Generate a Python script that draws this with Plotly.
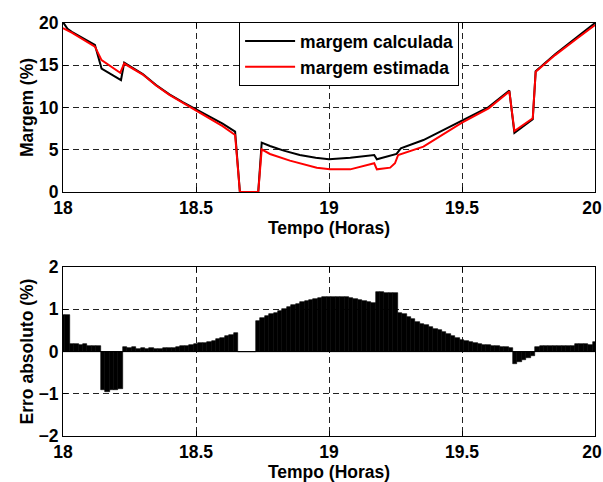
import plotly.graph_objects as go

# ---- data ----
tempo_calc = [18.0, 18.017, 18.033, 18.12, 18.145, 18.218, 18.23, 18.3, 18.35, 18.4,
              18.45, 18.5, 18.55, 18.6, 18.647, 18.665, 18.734, 18.747, 18.778, 18.83,
              18.89, 18.95, 19.0, 19.08, 19.17, 19.18, 19.254, 19.27, 19.355, 19.455,
              19.5, 19.6, 19.678, 19.697, 19.766, 19.777, 19.85, 19.93, 20.0]
margem_calculada = [20.1, 19.3, 18.95, 17.4, 14.6, 13.25, 15.3, 13.95, 12.65, 11.55,
                    10.65, 9.8, 8.95, 8.1, 7.15, 0.0, 0.0, 5.84, 5.44, 4.9,
                    4.38, 4.05, 3.87, 4.06, 4.38, 3.87, 4.5, 5.17, 6.15, 7.73,
                    8.5, 10.05, 12.0, 7.0, 8.6, 14.3, 16.3, 18.3, 20.0]

tempo_est = [18.0, 18.033, 18.12, 18.145, 18.215, 18.23, 18.3, 18.35, 18.4, 18.45,
             18.5, 18.55, 18.6, 18.647, 18.665, 18.734, 18.747, 18.778, 18.853, 18.954,
             19.004, 19.08, 19.154, 19.17, 19.18, 19.23, 19.248, 19.26, 19.355, 19.455,
             19.5, 19.6, 19.678, 19.697, 19.766, 19.777, 19.85, 19.93, 20.0]
margem_estimada = [19.4, 18.85, 17.2, 15.6, 14.1, 15.2, 13.9, 12.6, 11.5, 10.55,
                   9.65, 8.75, 7.8, 6.75, 0.0, 0.0, 5.05, 4.5, 3.71, 2.88,
                   2.68, 2.68, 3.31, 3.4, 2.68, 2.88, 3.4, 4.38, 5.36, 7.34,
                   8.2, 9.9, 11.9, 7.22, 8.72, 14.24, 16.2, 18.1, 19.76]

# absolute error, one value per minute from 18:00 to 20:00
erro_absoluto = [
    0.87, 0.87,
    0.17, 0.17, 0.16, 0.17,
    0.12, 0.13, 0.12,
    -0.92, -0.95, -0.9, -0.92, -0.88,
    0.1, 0.08, 0.1, 0.07, 0.08, 0.07, 0.08, 0.07, 0.07, 0.08, 0.08, 0.09, 0.1,
    0.12, 0.14, 0.15, 0.17, 0.19, 0.21, 0.23, 0.26, 0.29, 0.33, 0.36, 0.4, 0.43,
    0.0, 0.0, 0.0, 0.0,
    0.73, 0.79, 0.83, 0.88, 0.92, 0.96, 1.0, 1.05, 1.09, 1.13, 1.16, 1.19, 1.22,
    1.24, 1.26, 1.28, 1.29, 1.29, 1.29, 1.29, 1.28, 1.27, 1.25, 1.23, 1.2, 1.17, 1.14,
    1.4, 1.4, 1.39, 1.38, 1.38,
    0.92, 0.88, 0.82, 0.77, 0.71, 0.66, 0.62, 0.58, 0.54, 0.5, 0.45, 0.41, 0.36,
    0.32, 0.28, 0.25, 0.22, 0.2, 0.18, 0.16, 0.15, 0.13, 0.12, 0.11, 0.1, 0.08,
    -0.29, -0.24, -0.19, -0.15, -0.1,
    0.1, 0.12, 0.13, 0.13, 0.12, 0.13, 0.12, 0.13, 0.13, 0.17, 0.17, 0.18, 0.15, 0.23,
]
tempo_erro = [18 + m / 60 for m in range(len(erro_absoluto))]

x_ticks = [18, 18.5, 19, 19.5, 20]
x_tick_labels = ["18", "18.5", "19", "19.5", "20\u2004"]
y1_ticks = [0, 5, 10, 15, 20]
y2_ticks = [-2, -1, 0, 1, 2]

FONT = "Liberation Sans, Arial, Helvetica, sans-serif"
FS = 17.5

fig = go.Figure()
fig.add_trace(go.Scatter(x=tempo_calc, y=margem_calculada, mode="lines",
                         line=dict(color="black", width=2), name="margem calculada",
                         xaxis="x", yaxis="y"))
fig.add_trace(go.Scatter(x=tempo_est, y=margem_estimada, mode="lines",
                         line=dict(color="#ff0000", width=2), name="margem estimada",
                         xaxis="x", yaxis="y"))
fig.add_trace(go.Bar(x=tempo_erro, y=erro_absoluto, width=1 / 60,
                     marker=dict(color="black", line=dict(color="black", width=0.6)),
                     showlegend=False, xaxis="x2", yaxis="y2"))

axis_common = dict(
    showline=True, linecolor="black", linewidth=1, mirror="ticks",
    ticks="inside", ticklen=5, tickcolor="black",
    showgrid=True, gridcolor="#222", gridwidth=1, griddash="6px,4px",
    tickfont=dict(family=FONT, size=FS, color="black", weight="bold"),
    zeroline=False, automargin=False, ticklabeloverflow="allow",
)

title_font = dict(family=FONT, size=FS, color="black", weight="bold")

fig.update_layout(
    width=603, height=482,
    paper_bgcolor="white", plot_bgcolor="white",
    margin=dict(l=63, r=8, t=23, b=46, autoexpand=False),
    bargap=0,
    showlegend=True,
    legend=dict(x=0.331, y=1.002, xanchor="left", yanchor="top",
                bgcolor="white", bordercolor="black", borderwidth=1,
                font=dict(family=FONT, size=FS, color="black", weight="bold"),
                itemwidth=50, tracegroupgap=0),
    xaxis=dict(axis_common, domain=[0, 1], range=[18, 20], anchor="y",
               tickvals=x_ticks, ticktext=x_tick_labels,
               title=dict(text="Tempo (Horas)", font=title_font, standoff=0)),
    yaxis=dict(axis_common, domain=[0.5908, 1], range=[0, 20], anchor="x",
               tickvals=y1_ticks,
               title=dict(text="Margem (%)", font=title_font, standoff=0)),
    xaxis2=dict(axis_common, domain=[0, 1], range=[18, 20], anchor="y2",
                tickvals=x_ticks, ticktext=x_tick_labels,
                title=dict(text="Tempo (Horas)", font=title_font, standoff=0)),
    yaxis2=dict(axis_common, domain=[0, 0.4092], range=[-2, 2], anchor="x2",
                tickvals=y2_ticks,
                title=dict(text="Erro absoluto (%)", font=title_font, standoff=0)),
)
fig.update_layout(yaxis2=dict(zeroline=True, zerolinecolor="black", zerolinewidth=1))

fig.write_html("out.html",
               config={"displayModeBar": False},
               post_script="document.body.style.margin='0';document.body.style.padding='0';")
